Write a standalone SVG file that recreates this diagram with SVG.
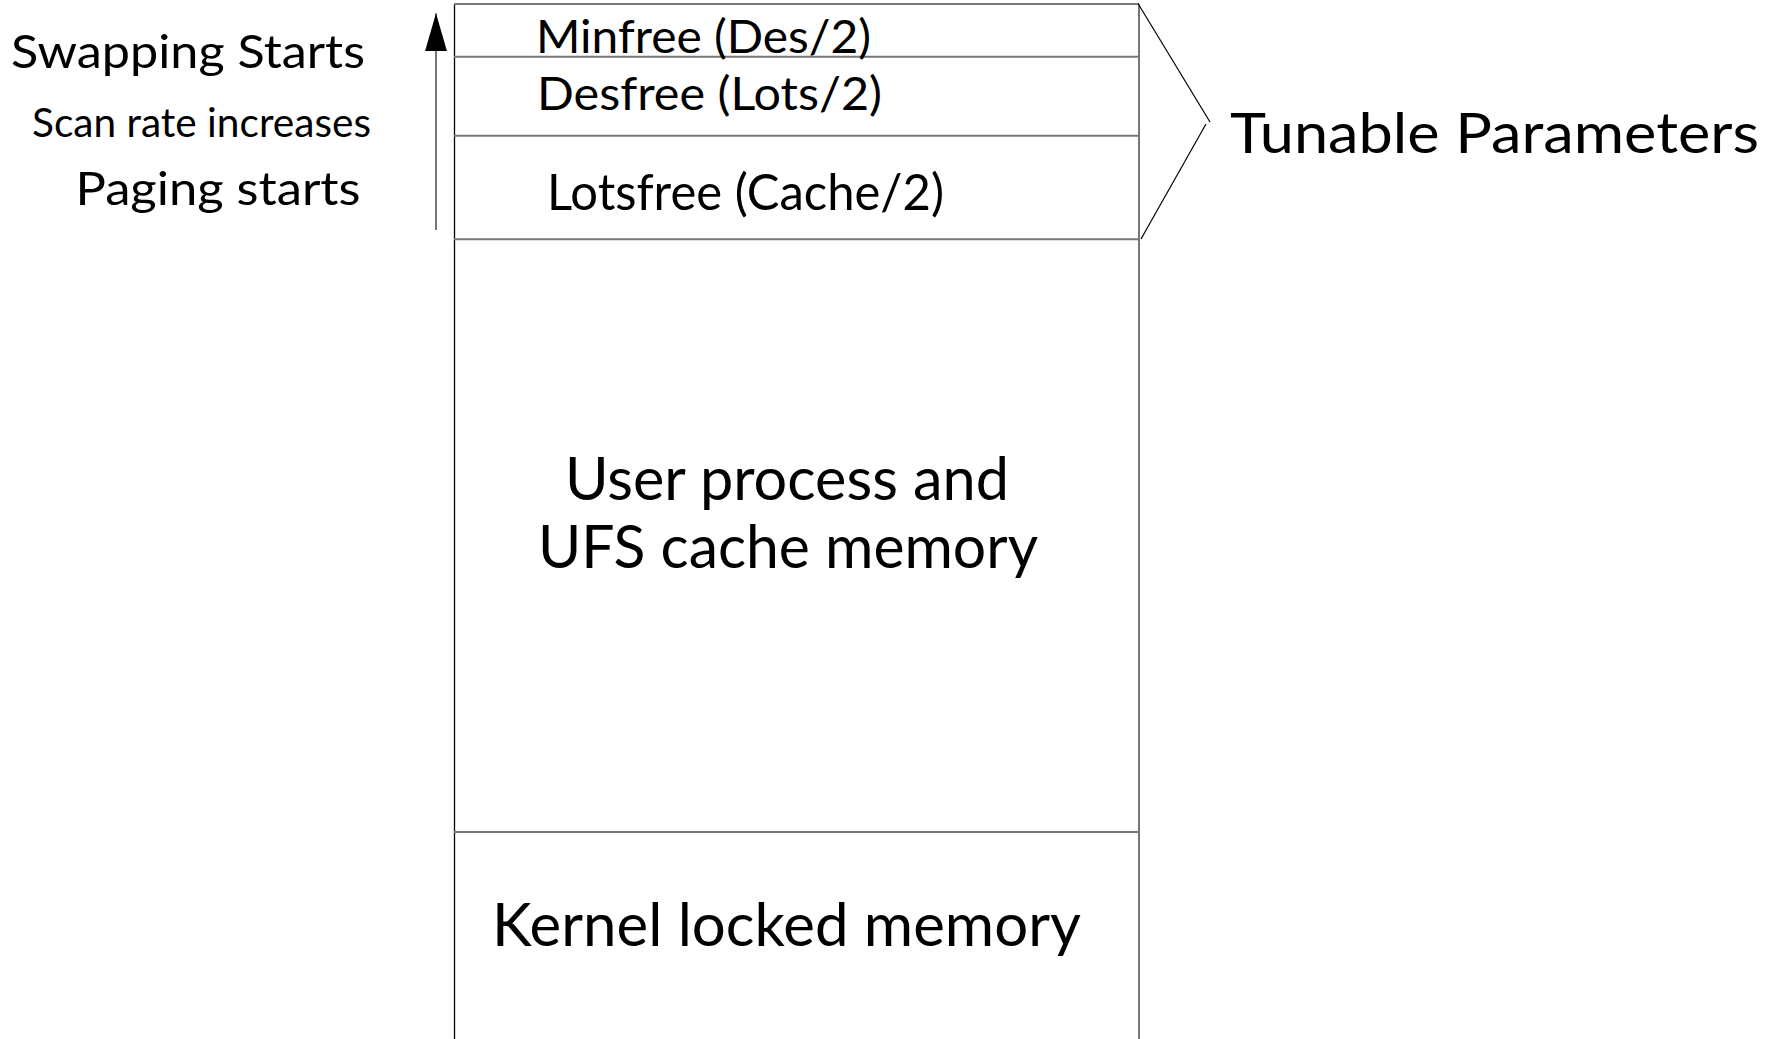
<svg xmlns="http://www.w3.org/2000/svg" width="1775" height="1039" viewBox="0 0 1775 1039">
  <style>
    .lbl { font-family: Lato, "Open Sans", "Noto Sans", sans-serif; fill: #000; }
    .s46 { font-size: 46.5px; }
    .s40 { font-size: 40.5px; }
    .s51 { font-size: 51px; }
    .s57 { font-size: 57px; }
    .s60 { font-size: 60.5px; }
    .div { stroke: #777; stroke-width: 2; fill: none; }
    .edge { stroke: #000; stroke-width: 1.3; fill: none; }
    .thin { stroke: #000; stroke-width: 1.2; fill: none; }
  </style>
  <defs>
    <marker id="head" viewBox="0 0 38 22" refX="38" refY="11" markerWidth="38" markerHeight="22" markerUnits="userSpaceOnUse" orient="auto">
      <polygon points="0,0 38,11 0,22" fill="#000"/>
    </marker>
  </defs>
  <rect width="1775" height="1039" fill="#fff"/>

  <!-- memory column: outer edges and band dividers -->
  <g id="memory-column">
    <line class="edge" x1="454.5" y1="4" x2="454.5" y2="1039"/>
    <line class="div" x1="1139" y1="4" x2="1139" y2="1039"/>
    <line class="div" x1="454" y1="4" x2="1139" y2="4"/>
  </g>

  <g id="minfree">
    <line class="div" x1="454" y1="56.7" x2="1139" y2="56.7"/>
    <text class="lbl s46" x="536" y="52.5" textLength="335" lengthAdjust="spacingAndGlyphs">Minfree (Des/2)</text>
  </g>

  <g id="desfree">
    <line class="div" x1="454" y1="135.7" x2="1139" y2="135.7"/>
    <text class="lbl s46" x="537" y="109.5" textLength="345" lengthAdjust="spacingAndGlyphs">Desfree (Lots/2)</text>
  </g>

  <g id="lotsfree">
    <line class="div" x1="454" y1="239.3" x2="1139" y2="239.3"/>
    <text class="lbl s51" x="547" y="210" textLength="397" lengthAdjust="spacingAndGlyphs">Lotsfree (Cache/2)</text>
  </g>

  <g id="user-memory">
    <text class="lbl s60" x="565" y="500" textLength="444" lengthAdjust="spacingAndGlyphs">User process and</text>
    <text class="lbl s60" x="538" y="568" textLength="500" lengthAdjust="spacingAndGlyphs">UFS cache memory</text>
  </g>

  <g id="kernel-memory">
    <line class="div" x1="454" y1="832" x2="1139" y2="832"/>
    <text class="lbl s60" x="492" y="946" textLength="589" lengthAdjust="spacingAndGlyphs">Kernel locked memory</text>
  </g>

  <!-- threshold labels on the left -->
  <g id="thresholds">
    <text class="lbl s46" x="11" y="67.5" textLength="354" lengthAdjust="spacingAndGlyphs">Swapping Starts</text>
    <text class="lbl s40" x="32" y="137" textLength="339" lengthAdjust="spacingAndGlyphs">Scan rate increases</text>
    <text class="lbl s46" x="75.5" y="205" textLength="285" lengthAdjust="spacingAndGlyphs">Paging starts</text>
  </g>

  <g id="tunable">
    <text class="lbl s57" x="1230" y="153.3" textLength="529" lengthAdjust="spacingAndGlyphs">Tunable Parameters</text>
  </g>

  <!-- connectors: pressure arrow and brace -->
  <g id="connectors">
    <line x1="436" y1="230" x2="436" y2="13.3" stroke="#777" stroke-width="2" marker-end="url(#head)"/>
    <line class="thin" x1="1138" y1="3.5" x2="1210" y2="122"/>
    <line class="thin" x1="1206" y1="124" x2="1141" y2="239"/>
  </g>
</svg>
